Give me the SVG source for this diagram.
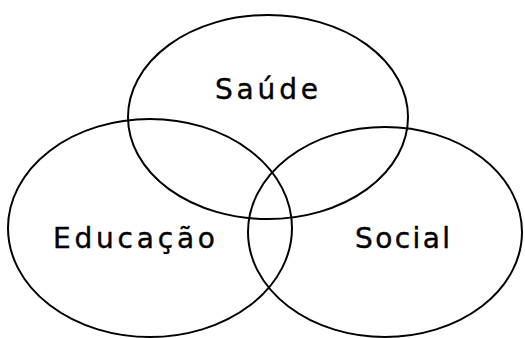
<svg xmlns="http://www.w3.org/2000/svg" width="525" height="338" viewBox="0 0 525 338">
<style>
.c{fill:none;stroke:#000;stroke-width:2}
.t{font-family:"DejaVu Sans","Liberation Sans",Arial,sans-serif;font-size:28px;fill:#000;stroke:#000;stroke-width:0.4}
</style>
<rect width="525" height="338" fill="#fff"/>
<g id="saude"><ellipse class="c" cx="268" cy="117" rx="140" ry="102"/><text class="t" x="215" y="99" textLength="103" lengthAdjust="spacing">Saúde</text></g>
<g id="educacao"><ellipse class="c" cx="150" cy="228" rx="142" ry="109"/><text class="t" x="53" y="248" textLength="162" lengthAdjust="spacing">Educação</text></g>
<g id="social"><ellipse class="c" cx="385" cy="232" rx="137" ry="105"/><text class="t" x="355" y="248" textLength="95" lengthAdjust="spacing">Social</text></g>
<g id="connectors"/>
</svg>
